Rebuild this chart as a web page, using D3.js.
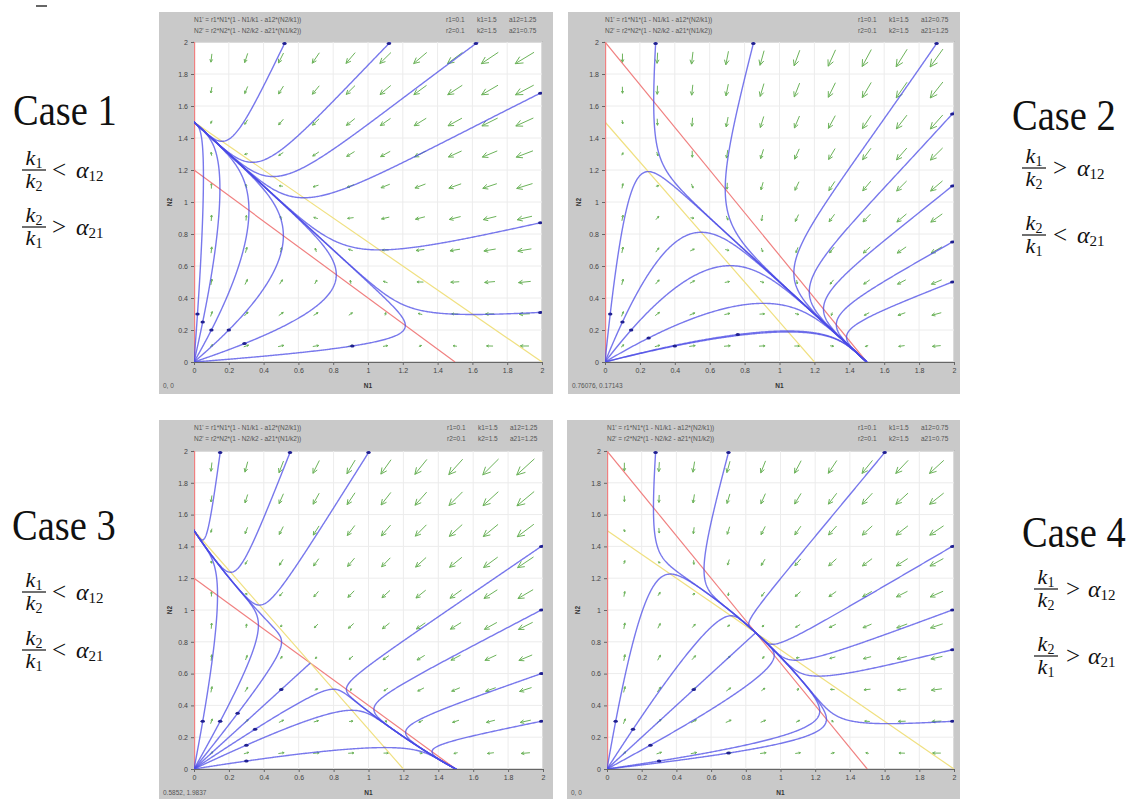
<!DOCTYPE html>
<html><head><meta charset="utf-8">
<script src="https://cdn.jsdelivr.net/npm/d3@7"></script>
<style>body{margin:0;background:#fff;} svg{display:block;}</style>
</head><body>
<script>
// ---------------- data ----------------
const caseNames = ["Case 1", "Case 2", "Case 3", "Case 4"];
const r1 = [0.1, 0.1, 0.1, 0.1];
const r2 = [0.1, 0.1, 0.1, 0.1];
const k1 = [1.5, 1.5, 1.5, 1.5];
const k2 = [1.5, 1.5, 1.5, 1.5];
const a12 = [1.25, 0.75, 1.25, 0.75];
const a21 = [0.75, 1.25, 1.25, 0.75];
const paramLabels1 = [["r1=0.1", "k1=1.5", "a12=1.25"], ["r1=0.1", "k1=1.5", "a12=0.75"], ["r1=0.1", "k1=1.5", "a12=1.25"], ["r1=0.1", "k1=1.5", "a12=0.75"]];
const paramLabels2 = [["r2=0.1", "k2=1.5", "a21=0.75"], ["r2=0.1", "k2=1.5", "a21=1.25"], ["r2=0.1", "k2=1.5", "a21=1.25"], ["r2=0.1", "k2=1.5", "a21=0.75"]];
const eq1 = "N1' = r1*N1*(1 - N1/k1 - a12*(N2/k1))";
const eq2 = "N2' = r2*N2*(1 - N2/k2 - a21*(N1/k2))";
const readouts = ["0, 0", "0.76076, 0.17143", "0.5852, 1.9837", "0, 0"];
const tickValues = [0, 0.2, 0.4, 0.6, 0.8, 1, 1.2, 1.4, 1.6, 1.8, 2];
const tickLabels = ["0", "0.2", "0.4", "0.6", "0.8", "1", "1.2", "1.4", "1.6", "1.8", "2"];
const arrowGrid = [0.1, 0.3, 0.5, 0.7, 0.9, 1.1, 1.3, 1.5, 1.7, 1.9];
// trajectory seed points (N1, N2) for each case
const seeds1 = [[0.52, 1.99], [1.12, 1.99], [1.62, 1.99], [1.99, 1.68], [1.99, 0.87], [1.99, 0.31],
  [0.91, 0.10], [0.29, 0.115], [0.2, 0.2], [0.1, 0.2], [0.05, 0.25], [0.02, 0.3]];
const seeds2 = [[0.29, 1.99], [0.85, 1.99], [1.9, 1.99], [1.99, 1.55], [1.99, 1.1], [1.99, 0.75], [1.99, 0.5],
  [0.03, 0.3], [0.1, 0.25], [0.15, 0.2], [0.25, 0.15], [0.4, 0.1], [0.76076, 0.17143]];
const seeds3 = [[0.5, 0.5], [0.05, 0.3], [0.15, 0.3], [0.25, 0.35], [0.3, 0.05], [0.3, 0.15], [0.35, 0.25],
  [0.15, 1.99], [0.55, 1.99], [1.0, 1.99], [1.99, 1.4], [1.99, 1.0], [1.99, 0.6], [1.99, 0.3]];
const seeds4 = [[0.5, 0.5], [0.05, 0.3], [0.15, 0.25], [0.25, 0.15], [0.3, 0.05], [0.7, 0.1],
  [0.28, 1.99], [0.7, 1.99], [1.6, 1.99], [1.99, 1.4], [1.99, 1.0], [1.99, 0.75], [1.99, 0.3]];
const seedSets = [seeds1, seeds2, seeds3, seeds4];

// ---------------- layout ----------------
const W = 1138, H = 799;
const frames = [
  {fx: 159, fy: 12, fw: 394, fh: 382, x0: 194, x1: 542, yt: 42, yb: 362},
  {fx: 568, fy: 12, fw: 392, fh: 382, x0: 605, x1: 954, yt: 42, yb: 362},
  {fx: 159, fy: 420, fw: 394, fh: 379, x0: 194, x1: 543, yt: 451, yb: 769},
  {fx: 567, fy: 420, fw: 393, fh: 379, x0: 607, x1: 954, yt: 451, yb: 769}
];

const svg = d3.select("body").append("svg").attr("width", W).attr("height", H);
svg.append("rect").attr("width", W).attr("height", H).attr("fill", "#fff");
svg.append("line").attr("x1", 36).attr("x2", 47).attr("y1", 6).attr("y2", 6).attr("stroke", "#333").attr("stroke-width", 1.5);

const defs = svg.append("defs");

frames.forEach((fr, i) => {
  const p = {r1: r1[i], r2: r2[i], k1: k1[i], k2: k2[i], a12: a12[i], a21: a21[i]};
  const g = svg.append("g");
  g.append("rect").attr("x", fr.fx).attr("y", fr.fy).attr("width", fr.fw).attr("height", fr.fh).attr("fill", "#c9c9c9");
  const x = d3.scaleLinear().domain([0, 2]).range([fr.x0, fr.x1]);
  const y = d3.scaleLinear().domain([0, 2]).range([fr.yb, fr.yt]);
  g.append("rect").attr("x", fr.x0).attr("y", fr.yt).attr("width", fr.x1 - fr.x0).attr("height", fr.yb - fr.yt)
    .attr("fill", "#fff").attr("stroke", "#7a7a7a").attr("stroke-width", 0.8);
  tickValues.forEach(t => {
    g.append("line").attr("x1", x(t)).attr("x2", x(t)).attr("y1", fr.yt).attr("y2", fr.yb).attr("stroke", "#ececec").attr("stroke-width", 1);
    g.append("line").attr("y1", y(t)).attr("y2", y(t)).attr("x1", fr.x0).attr("x2", fr.x1).attr("stroke", "#ececec").attr("stroke-width", 1);
  });
  const xa = d3.axisBottom(x).tickValues(tickValues).tickFormat((d, j) => tickLabels[j]).tickSize(3).tickPadding(3);
  const ya = d3.axisLeft(y).tickValues(tickValues).tickFormat((d, j) => tickLabels[j]).tickSize(3).tickPadding(3);
  const gx = g.append("g").attr("transform", `translate(0,${fr.yb})`).call(xa);
  const gy = g.append("g").attr("transform", `translate(${fr.x0},0)`).call(ya);
  [gx, gy].forEach(a => {
    a.select(".domain").attr("stroke", "#666");
    a.selectAll(".tick line").attr("stroke", "#666");
    a.selectAll("text").attr("font-family", "Liberation Sans, Arial").attr("font-size", 7).attr("fill", "#444");
  });
  const tf = "Liberation Sans, Arial";
  g.append("text").attr("x", fr.x0).attr("y", fr.fy + 10).text(eq1).attr("font-family", tf).attr("font-size", 6.5).attr("fill", "#555");
  g.append("text").attr("x", fr.x0).attr("y", fr.fy + 21).text(eq2).attr("font-family", tf).attr("font-size", 6.5).attr("fill", "#555");
  const offs = [-96, -65, -33];
  paramLabels1[i].forEach((s, j) => g.append("text").attr("x", fr.x1 + offs[j]).attr("y", fr.fy + 10).text(s).attr("font-family", tf).attr("font-size", 6.5).attr("fill", "#555"));
  paramLabels2[i].forEach((s, j) => g.append("text").attr("x", fr.x1 + offs[j]).attr("y", fr.fy + 21).text(s).attr("font-family", tf).attr("font-size", 6.5).attr("fill", "#555"));
  g.append("text").attr("x", fr.fx + 4).attr("y", fr.yb + 26).text(readouts[i]).attr("font-family", tf).attr("font-size", 6.5).attr("fill", "#555");
  g.append("text").attr("x", (fr.x0 + fr.x1) / 2).attr("y", fr.yb + 26).attr("text-anchor", "middle").text("N1").attr("font-family", tf).attr("font-size", 6.5).attr("font-weight", "bold").attr("fill", "#333");
  g.append("text").attr("transform", `translate(${fr.fx + 13},${(fr.yt + fr.yb) / 2}) rotate(-90)`).attr("text-anchor", "middle").text("N2").attr("font-family", tf).attr("font-size", 6.5).attr("font-weight", "bold").attr("fill", "#333");

  const cid = "clip" + i;
  defs.append("clipPath").attr("id", cid).append("rect").attr("x", fr.x0).attr("y", fr.yt).attr("width", fr.x1 - fr.x0).attr("height", fr.yb - fr.yt);
  const pg = g.append("g").attr("clip-path", `url(#${cid})`);

  const f = (u, v) => [p.r1 * u * (1 - u / p.k1 - p.a12 * v / p.k1), p.r2 * v * (1 - v / p.k2 - p.a21 * u / p.k2)];

  arrowGrid.forEach(gx0 => arrowGrid.forEach(gy0 => {
    const [du, dv] = f(gx0, gy0);
    const px = du * (x(1) - x(0)), py = dv * (y(1) - y(0));
    const mag = Math.hypot(du, dv);
    if (mag < 1e-9) return;
    const L = 34 * Math.sqrt(mag);
    const ux = px / Math.hypot(px, py), uy = py / Math.hypot(px, py);
    const cx = x(gx0), cy = y(gy0);
    const sx = cx - ux * L / 2, sy = cy - uy * L / 2, ex = cx + ux * L / 2, ey = cy + uy * L / 2;
    const hl = Math.max(2, L * 0.38), ang = 0.45;
    const hx1 = ex - hl * (ux * Math.cos(ang) - uy * Math.sin(ang)), hy1 = ey - hl * (uy * Math.cos(ang) + ux * Math.sin(ang));
    const hx2 = ex - hl * (ux * Math.cos(-ang) - uy * Math.sin(-ang)), hy2 = ey - hl * (uy * Math.cos(-ang) + ux * Math.sin(-ang));
    pg.append("path").attr("d", `M${sx},${sy}L${ex},${ey}M${hx1},${hy1}L${ex},${ey}L${hx2},${hy2}`)
      .attr("fill", "none").attr("stroke", "#6cb35a").attr("stroke-width", 1);
  }));

  pg.append("line").attr("x1", x(0)).attr("y1", y(p.k1 / p.a12)).attr("x2", x(p.k1)).attr("y2", y(0)).attr("stroke", "#f08080").attr("stroke-width", 1.2);
  pg.append("line").attr("x1", x(0)).attr("y1", y(p.k2)).attr("x2", x(p.k2 / p.a21)).attr("y2", y(0)).attr("stroke", "#f0e080").attr("stroke-width", 1.2);
  pg.append("line").attr("x1", x(0) + 0.6).attr("y1", y(0)).attr("x2", x(0) + 0.6).attr("y2", y(2)).attr("stroke", "#f08080").attr("stroke-width", 1.2);

  function run(seed, sign) {
    const pts = [];
    let [u, v] = seed;
    for (let s = 0; s < 30000; s++) {
      const [a, b] = f(u, v);
      const sp = Math.hypot(a, b);
      if (sp < 1e-7) break;
      const h = sign * Math.min(0.006 / sp, 20);
      const k1_ = f(u, v), k2_ = f(u + h / 2 * k1_[0], v + h / 2 * k1_[1]);
      const k3_ = f(u + h / 2 * k2_[0], v + h / 2 * k2_[1]), k4_ = f(u + h * k3_[0], v + h * k3_[1]);
      u += h / 6 * (k1_[0] + 2 * k2_[0] + 2 * k3_[0] + k4_[0]);
      v += h / 6 * (k1_[1] + 2 * k2_[1] + 2 * k3_[1] + k4_[1]);
      pts.push([u, v]);
      if (u < -0.05 || v < -0.05 || u > 2.1 || v > 2.1) break;
      if (Math.hypot(u, v) < 1e-3) break;
    }
    return pts;
  }
  const line = d3.line().x(d => x(d[0])).y(d => y(d[1]));
  seedSets[i].forEach(sd => {
    const pts = run(sd, -1).reverse().concat([sd], run(sd, 1));
    pg.append("path").attr("d", line(pts)).attr("fill", "none").attr("stroke", "#4b4be6").attr("stroke-opacity", 0.75).attr("stroke-width", 1.4);
  });
  seedSets[i].forEach(sd => {
    pg.append("ellipse").attr("cx", x(sd[0])).attr("cy", y(sd[1])).attr("rx", 2.2).attr("ry", 1.5).attr("fill", "#202090");
  });
});

// ---------------- case labels ----------------
const serif = "Liberation Serif, Times New Roman, serif";
const labels = [
  {name: caseNames[0], nx: 13, ny: 125, fx: 34, bars: [170, 227], rels: ["<", ">"], rx: 52, ax: 76},
  {name: caseNames[1], nx: 1012, ny: 130, fx: 1034, bars: [168, 235], rels: [">", "<"], rx: 1053, ax: 1077},
  {name: caseNames[2], nx: 12, ny: 540, fx: 34, bars: [592, 650], rels: ["<", "<"], rx: 52, ax: 76},
  {name: caseNames[3], nx: 1022, ny: 547, fx: 1046, bars: [589, 656], rels: [">", ">"], rx: 1066, ax: 1088}
];
const fracs = [[["k", "1"], ["k", "2"], "12"], [["k", "2"], ["k", "1"], "21"]];
labels.forEach(lb => {
  svg.append("text").attr("transform", `translate(${lb.nx},${lb.ny}) scale(1,1.15)`).text(lb.name)
    .attr("font-family", serif).attr("font-size", 38.5).attr("fill", "#111");
  fracs.forEach((fr, j) => {
    const by = lb.bars[j];
    svg.append("line").attr("x1", lb.fx - 12).attr("x2", lb.fx + 12).attr("y1", by).attr("y2", by).attr("stroke", "#111").attr("stroke-width", 1.2);
    const num = svg.append("text").attr("x", lb.fx).attr("y", by - 5).attr("text-anchor", "middle").attr("font-family", serif).attr("font-size", 22).attr("fill", "#111");
    num.append("tspan").attr("font-style", "italic").text(fr[0][0]);
    num.append("tspan").attr("font-size", 14).attr("dy", 3).text(fr[0][1]);
    const den = svg.append("text").attr("x", lb.fx).attr("y", by + 18).attr("text-anchor", "middle").attr("font-family", serif).attr("font-size", 22).attr("fill", "#111");
    den.append("tspan").attr("font-style", "italic").text(fr[1][0]);
    den.append("tspan").attr("font-size", 14).attr("dy", 3).text(fr[1][1]);
    svg.append("text").attr("x", lb.rx).attr("y", by + 8).text(lb.rels[j]).attr("font-family", serif).attr("font-size", 25).attr("fill", "#111");
    const al = svg.append("text").attr("x", lb.ax).attr("y", by + 8).attr("font-family", serif).attr("font-size", 24).attr("fill", "#111");
    al.append("tspan").attr("font-style", "italic").text("α");
    al.append("tspan").attr("font-size", 15).attr("dy", 3).text(fr[2]);
  });
});
</script>
</body></html>
